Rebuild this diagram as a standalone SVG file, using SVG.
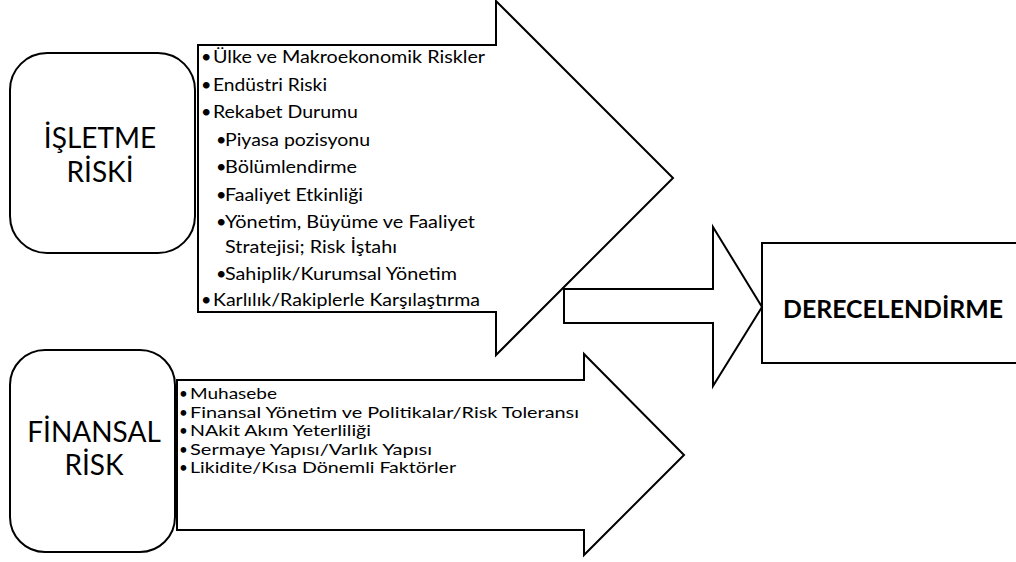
<svg xmlns="http://www.w3.org/2000/svg" width="1016" height="562" viewBox="0 0 1016 562">
<style>
.shape{fill:#fff;stroke:#000;stroke-width:2;stroke-linejoin:miter}
.title{font-family:Lato,"Liberation Sans",sans-serif;font-size:28px;fill:#000;text-anchor:middle}
.item{font-family:Lato,"Liberation Sans",sans-serif;font-size:18px;fill:#000}
.item2{font-family:Lato,"Liberation Sans",sans-serif;font-size:15.2px;fill:#000}
.bold{font-family:Lato,"Liberation Sans",sans-serif;font-size:25.5px;font-weight:bold;fill:#000}
</style>
<rect width="1016" height="562" fill="#fff"/>
<g id="list-isletme">
<polygon class="shape" points="198,45 496,45 496,1 673,178 496,355 496,312 198,312"/>
<text class="item" y="63"><tspan x="201">•</tspan><tspan x="213" textLength="272" lengthAdjust="spacingAndGlyphs">Ülke ve Makroekonomik Riskler</tspan></text>
<text class="item" y="91"><tspan x="201">•</tspan><tspan x="213" textLength="114" lengthAdjust="spacingAndGlyphs">Endüstri Riski</tspan></text>
<text class="item" y="118"><tspan x="201">•</tspan><tspan x="213" textLength="145" lengthAdjust="spacingAndGlyphs">Rekabet Durumu</tspan></text>
<text class="item" y="146"><tspan x="216">•</tspan><tspan x="225" textLength="145" lengthAdjust="spacingAndGlyphs">Piyasa pozisyonu</tspan></text>
<text class="item" y="173"><tspan x="216">•</tspan><tspan x="225" textLength="132" lengthAdjust="spacingAndGlyphs">Bölümlendirme</tspan></text>
<text class="item" y="201"><tspan x="216">•</tspan><tspan x="225" textLength="138" lengthAdjust="spacingAndGlyphs">Faaliyet Etkinliği</tspan></text>
<text class="item" y="228"><tspan x="216">•</tspan><tspan x="225" textLength="250" lengthAdjust="spacingAndGlyphs">Yönetim, Büyüme ve Faaliyet</tspan></text>
<text class="item" y="253"><tspan x="225" textLength="172" lengthAdjust="spacingAndGlyphs">Stratejisi; Risk İştahı</tspan></text>
<text class="item" y="280"><tspan x="216">•</tspan><tspan x="225" textLength="232" lengthAdjust="spacingAndGlyphs">Sahiplik/Kurumsal Yönetim</tspan></text>
<text class="item" y="306"><tspan x="201">•</tspan><tspan x="213" textLength="267" lengthAdjust="spacingAndGlyphs">Karlılık/Rakiplerle Karşılaştırma</tspan></text>
</g>
<g id="list-finansal">
<polygon class="shape" points="177,380 584,380 584,354 684,455 584,555 584,530 177,530"/>
<text class="item2" y="399"><tspan x="179">•</tspan><tspan x="190" textLength="87" lengthAdjust="spacingAndGlyphs">Muhasebe</tspan></text>
<text class="item2" y="417.5"><tspan x="179">•</tspan><tspan x="190" textLength="389" lengthAdjust="spacingAndGlyphs">Finansal Yönetim ve Politikalar/Risk Toleransı</tspan></text>
<text class="item2" y="436"><tspan x="179">•</tspan><tspan x="190" textLength="181" lengthAdjust="spacingAndGlyphs">NAkit Akım Yeterliliği</tspan></text>
<text class="item2" y="454.5"><tspan x="179">•</tspan><tspan x="190" textLength="242" lengthAdjust="spacingAndGlyphs">Sermaye Yapısı/Varlık Yapısı</tspan></text>
<text class="item2" y="473"><tspan x="179">•</tspan><tspan x="190" textLength="266" lengthAdjust="spacingAndGlyphs">Likidite/Kısa Dönemli Faktörler</tspan></text>
</g>
<g id="node-isletme">
<rect class="shape" x="10" y="53" width="185" height="200" rx="37" ry="37"/>
<text class="title" x="100" y="148">İŞLETME</text>
<text class="title" x="100" y="182">RİSKİ</text>
</g>
<g id="node-finansal">
<rect class="shape" x="10" y="350" width="165" height="202" rx="35" ry="35"/>
<text class="title" x="94" y="442">FİNANSAL</text>
<text class="title" x="94" y="475">RİSK</text>
</g>
<g id="node-derecelendirme">
<rect class="shape" x="762" y="243" width="260" height="120"/>
<text class="bold" x="783" y="318" textLength="220" lengthAdjust="spacingAndGlyphs">DERECELENDİRME</text>
</g>
<g id="connectors">
<polygon class="shape" points="564,289 713,289 713,227 762,307 713,386 713,323 564,323"/>
</g>
</svg>
